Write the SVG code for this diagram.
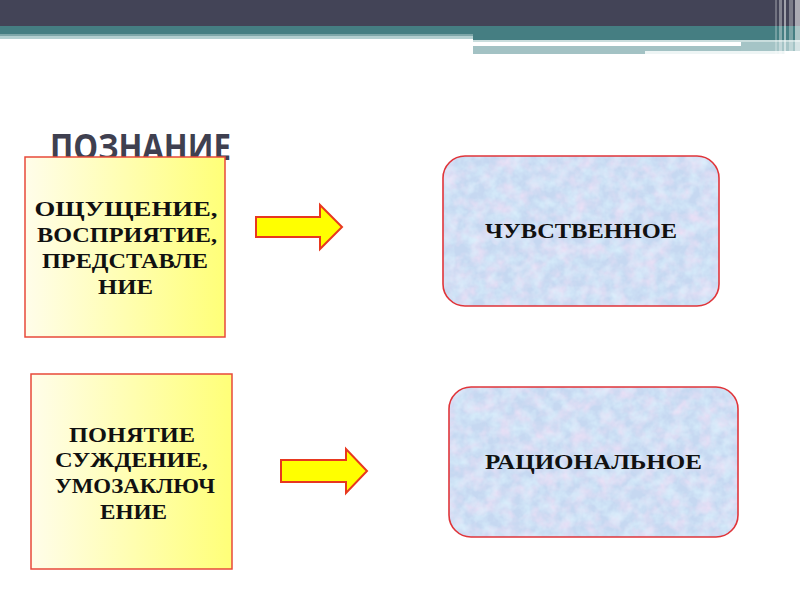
<svg xmlns="http://www.w3.org/2000/svg" width="800" height="600" viewBox="0 0 800 600">
<style>
.box-y{stroke:#e8493a;stroke-width:1.5}
.box-b{stroke:#e0353a;stroke-width:1.6}
.arrow{fill:#ffff00;stroke:#e8381f;stroke-width:2;stroke-linejoin:miter}
.t{font-family:"Liberation Serif","Times New Roman",serif;font-weight:bold;font-size:22px;fill:#111;text-anchor:middle}
.title{font-family:"Open Sans","DejaVu Sans",sans-serif;font-weight:bold;font-size:35px;fill:#3f4050}
</style>
<defs>
<linearGradient id="yel" x1="0" y1="0" x2="1" y2="0">
<stop offset="0" stop-color="#fffdea"/>
<stop offset="1" stop-color="#ffff78"/>
</linearGradient>
<filter id="tex" x="0" y="0" width="100%" height="100%">
<feTurbulence type="fractalNoise" baseFrequency="0.07" numOctaves="3" seed="5" result="n"/>
<feColorMatrix in="n" type="matrix" values="0 0 0 0 0.90  0 0 0 0 0.76  0 0 0 0 0.93  1.6 0 0 0 -0.6" result="pink"/>
<feTurbulence type="fractalNoise" baseFrequency="0.09" numOctaves="3" seed="11" result="n2"/>
<feColorMatrix in="n2" type="matrix" values="0 0 0 0 0.70  0 0 0 0 0.88  0 0 0 0 0.98  1.5 0 0 0 -0.55" result="cyan"/>
<feMerge result="m"><feMergeNode in="pink"/><feMergeNode in="cyan"/></feMerge>
<feComposite in="m" in2="SourceGraphic" operator="in"/>
</filter>
</defs>

<g id="header">
<rect x="0" y="0" width="800" height="26" fill="#434457"/>
<rect x="0" y="26" width="800" height="8" fill="#457e82"/>
<rect x="0" y="34" width="473" height="2" fill="#7da6a8"/>
<rect x="0" y="36" width="473" height="3" fill="#b3cfd0"/>
<rect x="473" y="34" width="327" height="6" fill="#457e82"/>
<rect x="473" y="40" width="327" height="2" fill="#c9dddd"/>
<rect x="473" y="42" width="268" height="3" fill="#ffffff"/>
<rect x="741" y="42" width="59" height="9" fill="#a5c4c6"/>
<rect x="473" y="46" width="172" height="8" fill="#a3c2c4"/>
<rect x="645" y="46" width="96" height="5" fill="#a3c2c4"/>
<rect x="645" y="51" width="140" height="3" fill="#eef5f5"/>
<rect x="775" y="0" width="2" height="54" fill="#ffffff" opacity="0.25"/>
<rect x="779" y="0" width="3" height="54" fill="#ffffff" opacity="0.35"/>
<rect x="784" y="0" width="2" height="56" fill="#ffffff" opacity="0.5"/>
<rect x="789" y="0" width="4" height="56" fill="#ffffff" opacity="0.3"/>
<rect x="795" y="0" width="5" height="56" fill="#ffffff" opacity="0.55"/>
</g>

<g id="title">
<text class="title" x="50" y="160" textLength="181" lengthAdjust="spacingAndGlyphs">ПОЗНАНИЕ</text>
</g>

<g id="node-sensory-forms">
<rect class="box-y" x="25" y="157" width="200" height="180" fill="url(#yel)"/>
<text class="t" x="126" y="215.5" textLength="183" lengthAdjust="spacingAndGlyphs">ОЩУЩЕНИЕ,</text>
<text class="t" x="127" y="241.5" textLength="180" lengthAdjust="spacingAndGlyphs">ВОСПРИЯТИЕ,</text>
<text class="t" x="125" y="267.5" textLength="166" lengthAdjust="spacingAndGlyphs">ПРЕДСТАВЛЕ</text>
<text class="t" x="125.5" y="293.5" textLength="55" lengthAdjust="spacingAndGlyphs">НИЕ</text>
</g>

<g id="node-rational-forms">
<rect class="box-y" x="31" y="374" width="201" height="195" fill="url(#yel)"/>
<text class="t" x="132" y="442" textLength="126" lengthAdjust="spacingAndGlyphs">ПОНЯТИЕ</text>
<text class="t" x="131.5" y="467" textLength="153" lengthAdjust="spacingAndGlyphs">СУЖДЕНИЕ,</text>
<text class="t" x="135" y="493" textLength="160" lengthAdjust="spacingAndGlyphs">УМОЗАКЛЮЧ</text>
<text class="t" x="133.5" y="518.5" textLength="67" lengthAdjust="spacingAndGlyphs">ЕНИЕ</text>
</g>

<g id="node-sensory">
<rect x="443" y="156" width="276" height="150" rx="22" fill="#c6d8f1"/>
<rect x="443" y="156" width="276" height="150" rx="22" fill="#000" filter="url(#tex)"/>
<rect class="box-b" x="443" y="156" width="276" height="150" rx="22" fill="none"/>
<text class="t" x="581" y="238" textLength="192" lengthAdjust="spacingAndGlyphs">ЧУВСТВЕННОЕ</text>
</g>

<g id="node-rational">
<rect x="449" y="387" width="289" height="150" rx="22" fill="#c6d8f1"/>
<rect x="449" y="387" width="289" height="150" rx="22" fill="#000" filter="url(#tex)"/>
<rect class="box-b" x="449" y="387" width="289" height="150" rx="22" fill="none"/>
<text class="t" x="593.5" y="469" textLength="217" lengthAdjust="spacingAndGlyphs">РАЦИОНАЛЬНОЕ</text>
</g>

<g id="connectors">
<polygon class="arrow" points="256,217 320,217 320,205 342,227 320,249 320,237 256,237"/>
<polygon class="arrow" points="281,460 346,460 346,449 367,471 346,493 346,482 281,482"/>
</g>
</svg>
